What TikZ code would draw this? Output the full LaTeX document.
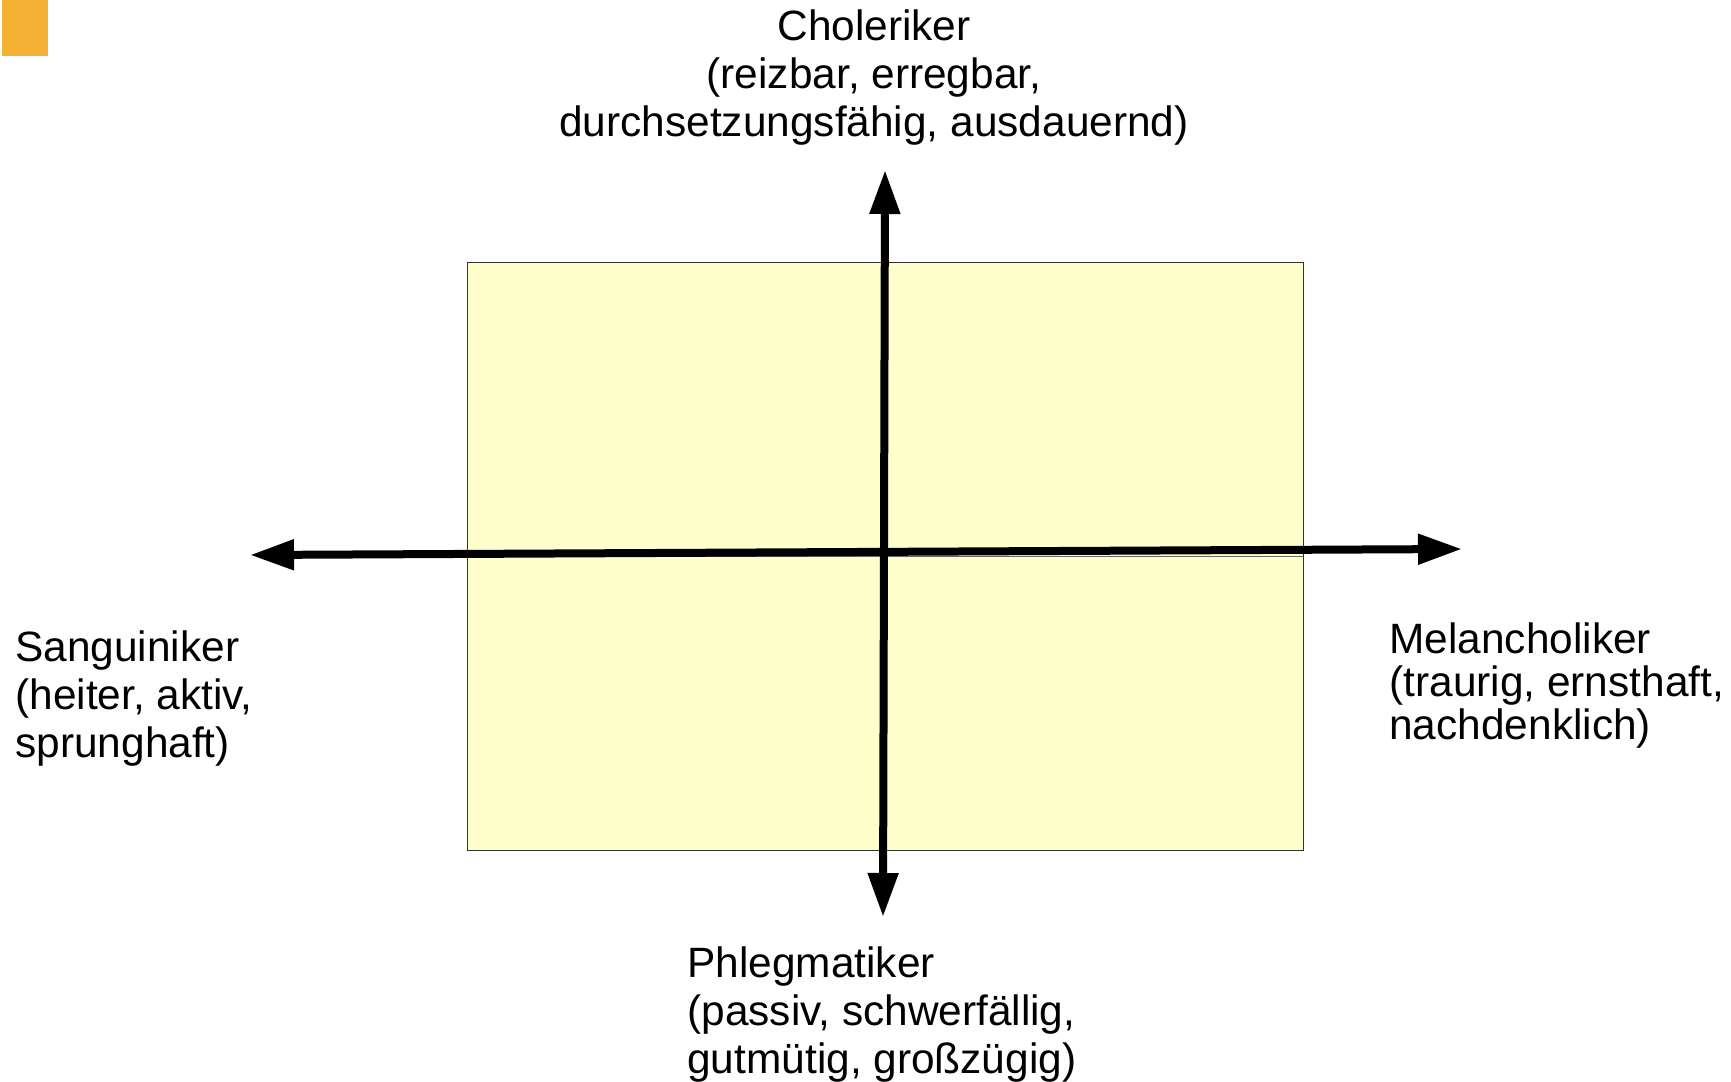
\documentclass[tikz,border=0pt]{standalone}
\usepackage{fontspec}
\setmainfont{Liberation Sans}
\usetikzlibrary{arrows.meta}
\definecolor{feldgelb}{RGB}{255,255,204}
\definecolor{ecke}{RGB}{245,177,51}

\begin{document}
\begin{tikzpicture}[x=0.5pt,y=-0.5pt,
        achse/.style={line width=4pt,{Triangle[length=22pt,width=14.5pt]}-{Triangle[length=22pt,width=14.5pt]}},
        typ/.style={inner sep=0pt,font=\fontsize{21.2}{23.8}\selectfont}]
        \useasboundingbox (0,0) rectangle (1731,1082);

        \fill[ecke] (2,0) rectangle (48,56);
        \filldraw[fill=feldgelb, draw=black!80, line width=0.5pt] (467,262) rectangle (1303,850);
        \draw[black!60, line width=0.5pt] (467,556) -- (1303,556);

        \coordinate (nord) at (885,170);
        \coordinate (sued) at (883,917);
        \coordinate (west) at (250,555);
        \coordinate (ost) at (1462,549);

        \draw[achse] (sued) -- (nord);
        \draw[achse] (west) -- (ost);

        \node[typ, align=center, anchor=base] (cholerisch) at (874,136) {Choleriker\\(reizbar, erregbar,\\durchsetzungsfähig, ausdauernd)};
        \node[typ, align=left, anchor=base west] (sanguinisch) at (15,757) {Sanguiniker\\(heiter, aktiv,\\sprunghaft)};
        \node[typ, align=left, font=\fontsize{21.2}{21.4}\selectfont, anchor=base west] (melancholisch) at (1389,739) {Melancholiker\\(traurig, ernsthaft,\\nachdenklich)};
        \node[typ, align=left, anchor=base west] (phlegmatisch) at (687,1073) {Phlegmatiker\\(passiv, schwerfällig,\\gutmütig, großzügig)};

    \end{tikzpicture}
\end{document}
